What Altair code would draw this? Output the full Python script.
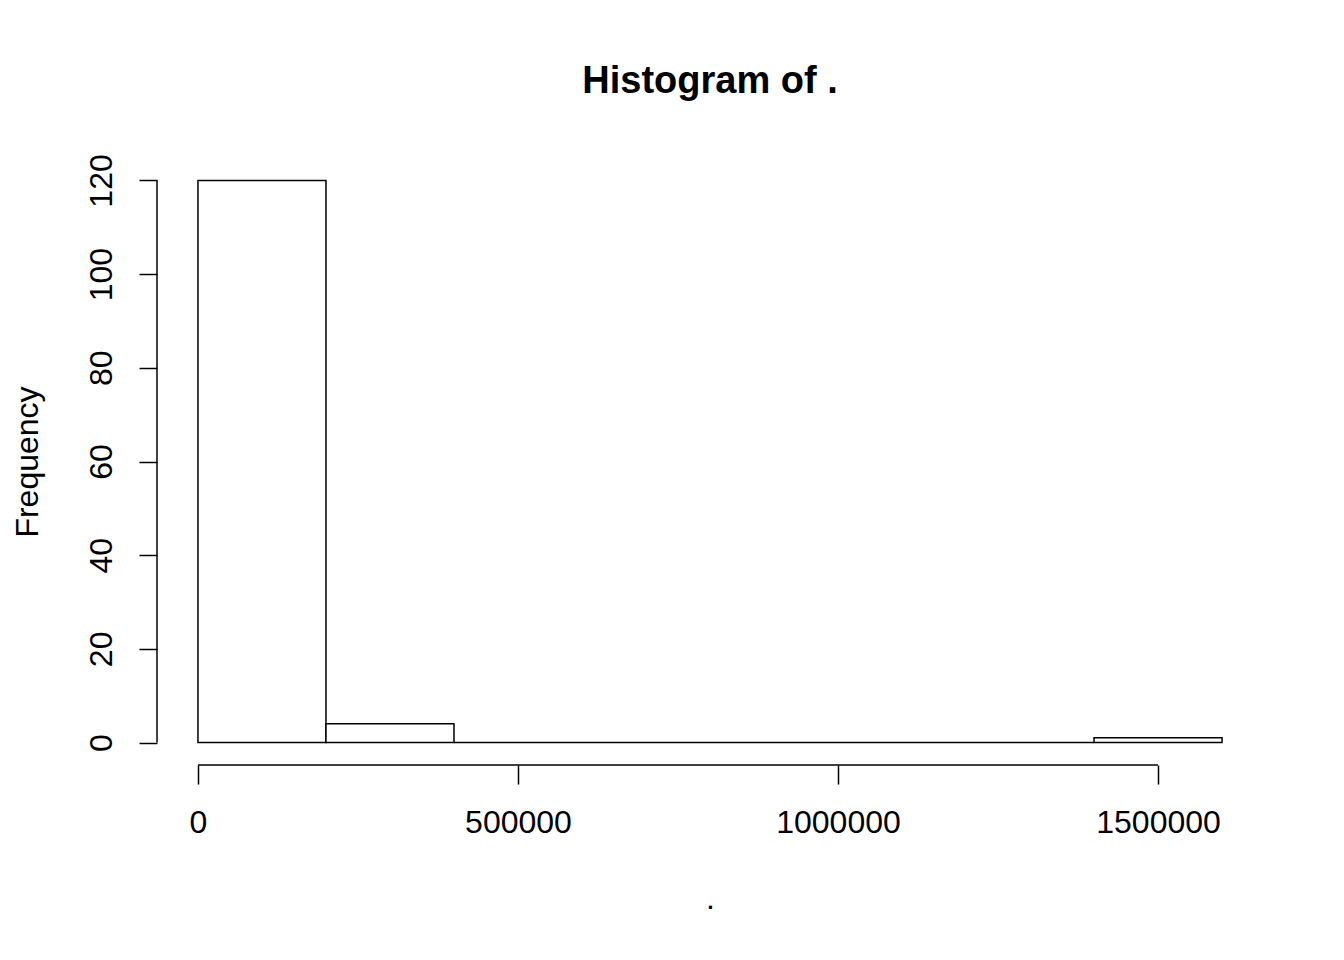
import altair as alt
import pandas as pd

# Histogram bins (R-style) and counts
bin_start = [0, 200000, 400000, 600000, 800000, 1000000, 1200000, 1400000]
bin_end = [200000, 400000, 600000, 800000, 1000000, 1200000, 1400000, 1600000]
counts = [120, 4, 0, 0, 0, 0, 0, 1]

x_ticks = [0, 500000, 1000000, 1500000]
y_ticks = [0, 20, 40, 60, 80, 100, 120]

df = pd.DataFrame({"start": bin_start, "end": bin_end, "count": counts})

W, H = 1106, 607
FONT = "Liberation Sans"

xscale = alt.Scale(domain=[-64000, 1664000], nice=False, zero=False)
yscale = alt.Scale(domain=[-4.8, 124.8], nice=False, zero=False)

bars = alt.Chart(df).mark_rect(fill="white", stroke="black", strokeWidth=1.5).encode(
    x=alt.X("start:Q", scale=xscale,
            axis=alt.Axis(values=x_ticks, domain=False, grid=False, tickSize=19,
                          tickColor="black", tickWidth=1.5, labelFontSize=32,
                          labelFont=FONT, labelColor="black", labelPadding=23,
                          labelFlush=False, labelOverlap=False, format="d",
                          title=".", titleFont=FONT, titleFontSize=32,
                          titleFontWeight="normal", titleColor="black",
                          titleX=553, titleY=143, titleBaseline="alphabetic")),
    x2="end:Q",
    y=alt.Y("count:Q", scale=yscale,
            axis=alt.Axis(values=y_ticks, domain=False, grid=False, tickSize=18,
                          tickColor="black", tickWidth=1.5, labelFontSize=32,
                          labelFont=FONT, labelColor="black", labelAngle=-90,
                          labelAlign="center", labelBaseline="alphabetic",
                          labelPadding=28, labelFlush=False, labelOverlap=False,
                          title="Frequency", titleFont=FONT, titleFontSize=32,
                          titleFontWeight="normal", titleColor="black",
                          titleAngle=-90, titleAlign="center",
                          titleBaseline="alphabetic", titleX=-120, titleY=303.5)),
    y2=alt.Y2(datum=0),
)

xaxis_df = pd.DataFrame({"a": [x_ticks[0]], "b": [x_ticks[-1]]})
xaxis_line = alt.Chart(xaxis_df).mark_rule(color="black", strokeWidth=1.5).encode(
    x=alt.X("a:Q", scale=xscale), x2="b:Q", y=alt.value(H)
)
yaxis_df = pd.DataFrame({"a": [y_ticks[0]], "b": [y_ticks[-1]]})
yaxis_line = alt.Chart(yaxis_df).mark_rule(color="black", strokeWidth=1.5).encode(
    y=alt.Y("a:Q", scale=yscale), y2="b:Q", x=alt.value(0)
)

chart = alt.layer(bars, xaxis_line, yaxis_line).properties(
    width=W, height=H,
    background="white",
    title=alt.TitleParams("Histogram of .", font=FONT, fontSize=38, fontWeight="bold",
                          color="black", anchor="middle", baseline="alphabetic", offset=23),
    autosize=alt.AutoSizeParams(type="none"),
    padding={"left": 149, "top": 150, "right": 73, "bottom": 180},
).configure_view(stroke=None, strokeWidth=0)

chart.save("out.html", embed_options={"renderer": "svg", "actions": False})
